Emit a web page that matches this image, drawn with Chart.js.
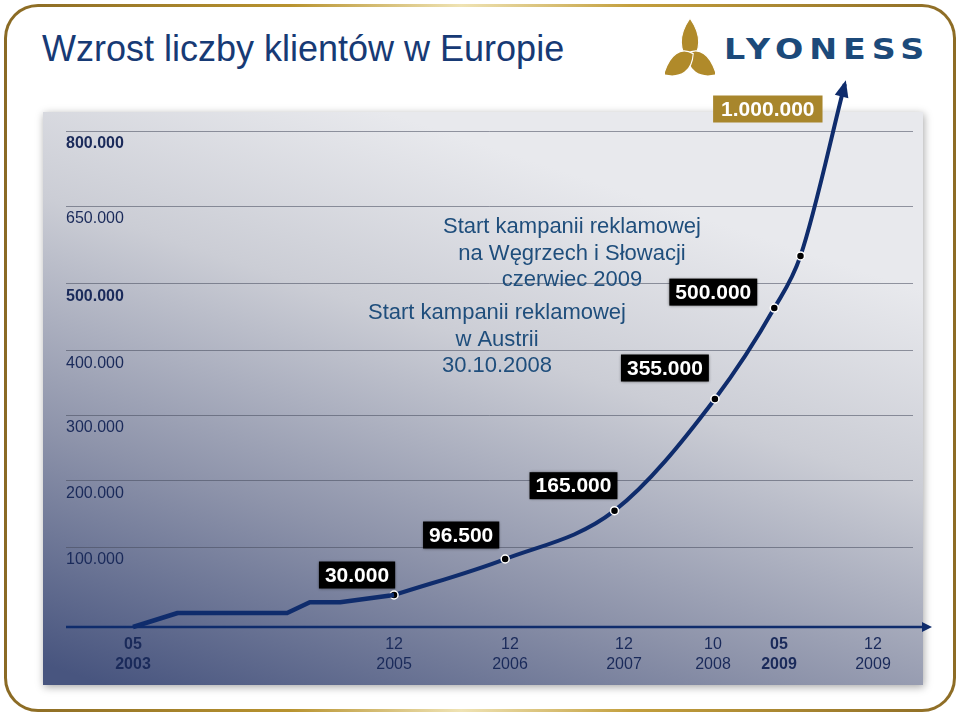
<!DOCTYPE html>
<html lang="pl">
<head>
  <meta charset="UTF-8" />
  <title>Wzrost liczby klientów w Europie</title>
  <script src="https://cdn.jsdelivr.net/npm/chart.js"></script>
  <style>
    html, body {
      margin: 0;
      padding: 0;
      background: #fff;
    }
    body {
      width: 960px;
      height: 716px;
      position: relative;
      overflow: hidden;
      font-family: Arial, 'Liberation Sans', sans-serif;
    }
    .frame {
      position: absolute;
      left: 4px;
      top: 4px;
      width: 952px;
      height: 708px;
      border-radius: 34px;
      background: linear-gradient(90deg, #8a6a24 0%, #b8932f 30%, #efe3b4 48%, #c39f3d 66%, #8d6c25 100%);
    }
    .frame-inner {
      position: absolute;
      left: 3px;
      top: 3px;
      right: 3px;
      bottom: 3px;
      border-radius: 31px;
      background: #fff;
    }
    h1 {
      position: absolute;
      left: 42px;
      top: 31px;
      margin: 0;
      font-size: 36px;
      line-height: 36px;
      font-weight: normal;
      color: #173a75;
    }
    .logo-mark {
      position: absolute;
      left: 665px;
      top: 17px;
    }
    .logo-text {
      position: absolute;
      left: 724px;
      top: 36px;
      font-family: 'DejaVu Sans', sans-serif;
      font-weight: bold;
      font-size: 28px;
      line-height: 28px;
      letter-spacing: 5px;
      color: #1c4a7a;
      transform: scaleX(1.19);
      transform-origin: left center;
    }
    #chart {
      position: absolute;
      left: 0;
      top: 0;
    }
  </style>
</head>
<body>
  <div class="frame"><div class="frame-inner"></div></div>
  <h1>Wzrost liczby klientów w Europie</h1>

  <svg class="logo-mark" width="50" height="62" viewBox="-27 -34 54 54" preserveAspectRatio="none">
    <g fill="#b08a2a" stroke="#fff" stroke-width="1.2">
      <path d="M0,-33 C13,-18 12,-4 0,4 C-12,-4 -13,-18 0,-33 Z" />
      <path d="M0,-33 C13,-18 12,-4 0,4 C-12,-4 -13,-18 0,-33 Z" transform="rotate(120)" />
      <path d="M0,-33 C13,-18 12,-4 0,4 C-12,-4 -13,-18 0,-33 Z" transform="rotate(240)" />
    </g>
  </svg>
  <div class="logo-text">LYONESS</div>

  <canvas id="chart" width="960" height="716"></canvas>

  <script>
    // months counted from Jan 2003 (4 = 05/2003)
    const xTickMonths = [4, 35, 47, 59, 69, 76, 83];
    const xTickTop = ['05', '12', '12', '12', '10', '05', '12'];
    const xTickBottom = ['2003', '2005', '2006', '2007', '2008', '2009', '2009'];
    const xTickBold = [true, false, false, false, false, true, false];

    const yTickValues = [100000, 200000, 300000, 400000, 500000, 650000, 800000];
    const yTickLabels = ['100.000', '200.000', '300.000', '400.000', '500.000', '650.000', '800.000'];
    const yTickBold = [false, false, false, false, true, false, true];

    // slow start (straight pieces)
    const startMonths = [4, 9.3, 22.3, 25, 28.6, 35];
    const startClients = [0, 17500, 17500, 31000, 31000, 40000];

    // growth (smooth curve)
    const growthMonths = [35, 46.5, 58, 69.2, 75.5, 77.6, 80.9];
    const growthClients = [40000, 85000, 155000, 325000, 464000, 554000, 1000000];
    const growthTags = ['30.000', '96.500', '165.000', '355.000', '500.000', '', '1.000.000'];

    // the slide's axes are drawn by hand, not evenly: value -> share of axis length
    const axisKnots = {
      x: [[-4, 4, 35, 47, 59, 69, 76, 83, 86],
          [0, 0.0791, 0.3873, 0.5242, 0.6588, 0.7639, 0.8418, 0.9528, 1]],
      y: [[0, 100000, 200000, 300000, 400000, 500000, 650000, 800000, 1000000],
          [0, 0.1473, 0.2689, 0.3904, 0.5083, 0.6317, 0.7753, 0.9134, 1]]
    };

    class KnotScale extends Chart.LinearScale {
      static id = 'knot';
      static defaults = {};

      getPixelForValue(value) {
        const [vals, spots] = axisKnots[this.id];
        let i = 1;
        while (i < vals.length - 1 && value > vals[i]) i++;
        const t = (value - vals[i - 1]) / (vals[i] - vals[i - 1]);
        return this.getPixelForDecimal(spots[i - 1] + t * (spots[i] - spots[i - 1]));
      }

      getValueForPixel(pixel) {
        const [vals, spots] = axisKnots[this.id];
        const d = this.getDecimalForPixel(pixel);
        let i = 1;
        while (i < spots.length - 1 && d > spots[i]) i++;
        const t = (d - spots[i - 1]) / (spots[i] - spots[i - 1]);
        return vals[i - 1] + t * (vals[i] - vals[i - 1]);
      }
    }
    Chart.register(KnotScale);

    const navy = '#0f2c6c';
    const tickColor = '#1a2a5a';

    const panelPlugin = {
      id: 'panel',
      beforeDraw(chart) {
        const c = chart.ctx;
        c.save();
        const g = c.createLinearGradient(150, 700, 350, 100);
        g.addColorStop(0, '#48557f');
        g.addColorStop(0.35, '#8d93aa');
        g.addColorStop(0.7, '#cbcdd5');
        g.addColorStop(1, '#e8e9ed');
        c.shadowColor = 'rgba(0,0,0,0.35)';
        c.shadowBlur = 8;
        c.shadowOffsetX = 1;
        c.shadowOffsetY = 2;
        c.fillStyle = g;
        c.fillRect(43, 112, 880, 573);
        c.restore();
      },
      beforeDatasetsDraw(chart) {
        // x axis with arrow
        const c = chart.ctx;
        const y = chart.scales.y.getPixelForValue(0);
        const left = chart.chartArea.left;
        const tip = chart.chartArea.right + 19;
        c.save();
        c.strokeStyle = navy;
        c.fillStyle = navy;
        c.lineWidth = 2.5;
        c.beginPath();
        c.moveTo(left, y);
        c.lineTo(tip - 6, y);
        c.stroke();
        c.beginPath();
        c.moveTo(tip, y);
        c.lineTo(tip - 10, y - 5);
        c.lineTo(tip - 10, y + 5);
        c.closePath();
        c.fill();
        c.restore();
      },
      afterDatasetsDraw(chart) {
        const c = chart.ctx;
        const pts = chart.getDatasetMeta(1).data;

        // arrow head at the end of the growth line
        const last = pts[pts.length - 1];
        let fx = last.cp1x, fy = last.cp1y;
        if (fx === undefined || Math.hypot(last.x - fx, last.y - fy) < 1) {
          fx = pts[pts.length - 2].x;
          fy = pts[pts.length - 2].y;
        }
        const ang = Math.atan2(last.y - fy, last.x - fx);
        const tx = last.x + Math.cos(ang) * 4;
        const ty = last.y + Math.sin(ang) * 4;
        c.save();
        c.fillStyle = navy;
        c.beginPath();
        c.moveTo(tx, ty);
        c.lineTo(tx - Math.cos(ang) * 17 + Math.sin(ang) * 7, ty - Math.sin(ang) * 17 - Math.cos(ang) * 7);
        c.lineTo(tx - Math.cos(ang) * 17 - Math.sin(ang) * 7, ty - Math.sin(ang) * 17 + Math.cos(ang) * 7);
        c.closePath();
        c.fill();
        c.restore();

        // value tags
        const tagShift = [[-37, -20], [-44, -24], [-41, -25], [-50, -31], [-61, -16], null, [-77, 25]];
        c.save();
        c.font = 'bold 21px Arial, "Liberation Sans", sans-serif';
        c.textAlign = 'center';
        c.textBaseline = 'middle';
        growthTags.forEach((tag, i) => {
          if (!tag) return;
          const p = pts[i];
          const cx = p.x + tagShift[i][0];
          const cy = p.y + tagShift[i][1];
          const gold = i === growthTags.length - 1;
          const w = c.measureText(tag).width + (gold ? 16 : 12);
          const h = 27;
          c.shadowColor = gold ? 'rgba(0,0,0,0)' : 'rgba(0,0,0,0.6)';
          c.shadowBlur = gold ? 0 : 3;
          c.fillStyle = gold ? '#a8862c' : '#000';
          c.fillRect(cx - w / 2, cy - h / 2, w, h);
          c.shadowBlur = 0;
          c.fillStyle = '#fff';
          c.fillText(tag, cx, cy + 1);
        });
        c.restore();
      },
      afterDraw(chart) {
        // campaign notes
        const c = chart.ctx;
        const notes = [
          { x: 572, y: 227, lines: ['Start kampanii reklamowej', 'na Węgrzech i Słowacji', 'czerwiec 2009'] },
          { x: 497, y: 313, lines: ['Start kampanii reklamowej', 'w Austrii', '30.10.2008'] }
        ];
        c.save();
        c.font = '22px Arial, "Liberation Sans", sans-serif';
        c.fillStyle = '#1f4e7c';
        c.textAlign = 'center';
        c.textBaseline = 'middle';
        notes.forEach(n => {
          n.lines.forEach((t, k) => c.fillText(t, n.x, n.y + k * 26.5));
        });
        c.restore();
      }
    };

    const ctx = document.getElementById('chart').getContext('2d');
    new Chart(ctx, {
      type: 'line',
      data: {
        datasets: [
          {
            data: startMonths.map((m, i) => ({ x: m, y: startClients[i] })),
            borderColor: navy,
            borderWidth: 4.5,
            borderJoinStyle: 'round',
            tension: 0,
            pointRadius: 0,
            clip: false
          },
          {
            data: growthMonths.map((m, i) => ({ x: m, y: growthClients[i] })),
            borderColor: navy,
            borderWidth: 4,
            cubicInterpolationMode: 'monotone',
            pointRadius: growthMonths.map((m, i) => (i < growthMonths.length - 1 ? 4 : 0)),
            pointBackgroundColor: '#000',
            pointBorderColor: '#fff',
            pointBorderWidth: 1.5,
            clip: false
          }
        ]
      },
      options: {
        responsive: false,
        animation: false,
        layout: { padding: { left: 66, right: 47, top: 84, bottom: 33 } },
        plugins: {
          legend: { display: false },
          tooltip: { enabled: false }
        },
        scales: {
          x: {
            type: 'knot',
            min: -4,
            max: 86,
            bounds: 'data',
            afterBuildTicks: s => { s.ticks = xTickMonths.map(v => ({ value: v })); },
            grid: { display: false, drawTicks: false },
            border: { display: false },
            ticks: {
              autoSkip: false,
              maxRotation: 0,
              padding: 8,
              color: tickColor,
              font: c => ({ family: 'Arial, "Liberation Sans", sans-serif', size: 16, lineHeight: 1.25, weight: xTickBold[c.index] ? 'bold' : 'normal' }),
              callback: (v, i) => [xTickTop[i], xTickBottom[i]]
            }
          },
          y: {
            type: 'knot',
            min: 0,
            max: 1000000,
            bounds: 'data',
            afterBuildTicks: s => { s.ticks = yTickValues.map(v => ({ value: v })); },
            grid: { color: 'rgba(70,74,92,0.55)', lineWidth: 1, drawTicks: false },
            border: { display: false },
            ticks: {
              mirror: true,
              padding: 0,
              labelOffset: 13,
              color: tickColor,
              font: c => ({ family: 'Arial, "Liberation Sans", sans-serif', size: 16, weight: yTickBold[c.index] ? 'bold' : 'normal' }),
              callback: (v, i) => yTickLabels[i]
            }
          }
        }
      },
      plugins: [panelPlugin]
    });
  </script>
</body>
</html>
